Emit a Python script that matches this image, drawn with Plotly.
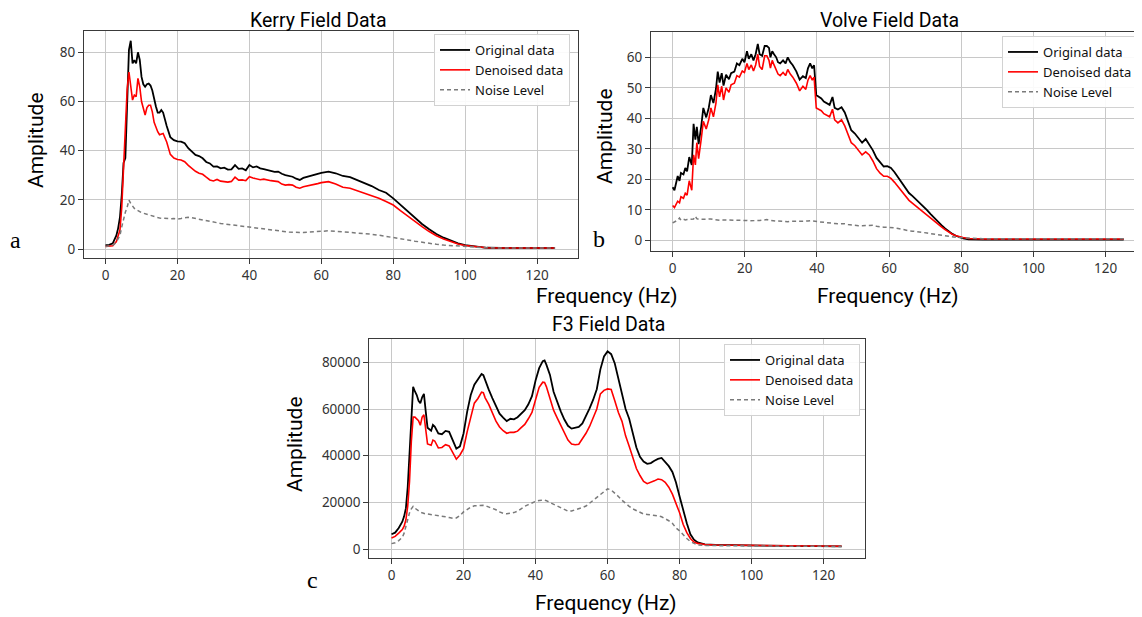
import plotly.graph_objects as go

# ---------------- Panel a : Kerry Field Data ----------------
a_freq = [0, 1, 2, 3, 3.5, 4, 4.5, 5, 5.5, 6,
          6.5, 7, 7.5, 8, 8.5, 9, 9.5, 10, 10.5, 11,
          11.5, 12, 12.5, 13, 13.5, 14, 14.5, 15, 15.5, 16,
          17, 18, 19, 20, 21, 22, 23, 24, 25, 26,
          27, 28, 29, 30, 31, 32, 33, 34, 35, 36,
          37, 38, 39, 40, 41, 42, 43, 44, 45, 46,
          47, 48, 49, 50, 51, 52, 53, 54, 55, 56,
          57, 58, 59, 60, 62, 64, 66, 68, 70, 72,
          74, 76, 78, 80, 82, 84, 86, 88, 90, 92,
          94, 96, 98, 100, 103, 106, 110, 115, 120, 125]
a_orig = [1.6, 1.7, 2.3, 5.5, 8.5, 13.0, 22.0, 35.0, 37.0, 62.0,
          81.0, 84.7, 75.5, 76.8, 75.5, 80.0, 77.0, 70.0, 67.0, 66.0,
          67.0, 67.3, 66.5, 64.5, 60.5, 58.0, 55.5, 55.5, 56.5, 55.5,
          50.0, 45.5, 44.3, 43.8, 43.7, 43.0, 41.0, 39.5, 38.3, 37.8,
          36.9, 35.4, 34.8, 33.5, 33.6, 32.8, 33.1, 32.3, 32.4, 34.1,
          32.6, 32.8, 32.0, 34.2, 33.2, 33.6, 32.8, 32.5, 32.1, 31.8,
          31.4, 31.5, 30.6, 30.1, 29.8, 29.4, 28.6, 28.1, 28.9, 29.4,
          29.6, 30.1, 30.6, 31.0, 31.5, 30.8, 29.7, 29.2, 28.1, 27.0,
          25.6, 24.0, 22.9, 20.6, 17.9, 15.2, 12.5, 10.2, 8.0, 6.1,
          4.6, 3.4, 2.3, 1.6, 0.95, 0.5, 0.4, 0.4, 0.4, 0.4]
a_den = [1.0, 1.1, 1.3, 3.0, 5.0, 7.7, 17.0, 32.0, 50.0, 65.0,
         72.0, 67.0, 60.6, 62.6, 62.0, 69.4, 66.0, 60.0, 57.0, 54.5,
         57.5, 58.5, 58.5, 55.8, 51.5, 49.5, 47.7, 46.5, 46.6, 47.0,
         43.5, 38.5, 37.0, 36.4, 36.2, 35.5, 34.0, 32.7, 31.6, 30.8,
         30.4, 29.2, 28.1, 27.7, 28.3, 27.6, 27.4, 27.2, 27.5, 29.2,
         28.0, 28.1, 27.8, 29.4, 28.9, 28.6, 28.2, 28.4, 28.0, 27.8,
         27.6, 27.4, 26.4, 26.0, 26.2, 26.0, 25.1, 24.7, 25.3, 25.6,
         25.7, 26.0, 26.6, 27.0, 27.4, 26.4, 25.1, 24.7, 23.7, 22.6,
         21.6, 20.6, 19.3, 17.9, 15.6, 13.4, 11.1, 9.1, 7.1, 5.4,
         4.1, 3.0, 2.0, 1.4, 0.8, 0.5, 0.4, 0.4, 0.4, 0.4]
a_noise = [1.0, 1.1, 1.5, 2.8, 4.0, 5.5, 9.0, 12.5, 15.0, 17.0,
           19.9, 18.5, 17.2, 16.5, 16.0, 15.4, 15.2, 14.8, 14.5, 14.2,
           14.0, 13.9, 13.7, 13.4, 13.2, 13.0, 12.8, 12.6, 12.5, 12.4,
           12.2, 12.3, 12.4, 12.2, 12.4, 12.6, 12.9, 12.7, 12.4, 12.1,
           11.8, 11.4, 11.0, 10.7, 10.5, 10.4, 10.2, 10.0, 9.9, 9.8,
           9.5, 9.3, 9.2, 9.1, 8.9, 8.7, 8.5, 8.2, 8.0, 7.8,
           7.6, 7.4, 7.2, 7.1, 6.9, 6.8, 6.7, 6.6, 6.7, 6.8,
           6.9, 7.0, 7.1, 7.2, 7.4, 7.2, 7.0, 6.9, 6.7, 6.4,
           6.0, 5.6, 5.2, 4.7, 4.2, 3.7, 3.2, 2.7, 2.3, 1.9,
           1.6, 1.4, 1.2, 1.0, 0.7, 0.5, 0.4, 0.4, 0.4, 0.4]

# ---------------- Panel b : Volve Field Data ----------------
b_freq = [0, 0.5, 1.4, 1.9, 2.3, 3, 3.5, 4, 4.6, 5.3,
          5.8, 6.3, 6.7, 7.2, 7.9, 8.5, 9.3, 10, 10.6, 11.3,
          12, 12.5, 13, 13.6, 14.1, 14.8, 15.6, 16.2, 17.1, 17.8,
          18.5, 19.3, 19.9, 20.6, 21.1, 21.8, 22.4, 23, 23.6, 24.1,
          24.8, 25.5, 26.1, 26.7, 27.1, 27.6, 28.1, 28.7, 29.2, 29.8,
          30.6, 31.3, 31.9, 32.6, 33.3, 34.3, 35.2, 36.1, 36.9, 37.5,
          38.1, 38.7, 39.2, 39.8, 40.6, 41.2, 41.9, 42.6, 43.5, 44.3,
          44.9, 45.8, 46.8, 47.7, 48.6, 49.5, 50.5, 51.5, 52.5, 53.5,
          54.5, 55.5, 56.5, 57.5, 58.5, 59.5, 60.5, 61.5, 62.5, 63.5,
          64.5, 65.5, 66.5, 67.5, 68.5, 69.5, 70.5, 71.5, 72.5, 73.5,
          74.5, 75.5, 76.5, 77.5, 78.5, 79.5, 80.5, 82, 84, 86,
          90, 100, 110, 120, 125]
b_orig = [17.4, 16.4, 21.1, 19.5, 22.1, 21.6, 23.7, 22.6, 27.3, 24.7,
          38.2, 33.0, 37.2, 31.5, 37.2, 43.4, 40.3, 43.4, 47.6, 45.0,
          49.6, 55.3, 51.7, 54.8, 50.7, 54.3, 52.8, 54.8, 55.3, 58.0,
          57.4, 59.5, 58.4, 62.0, 59.5, 61.0, 59.0, 61.0, 64.4, 61.0,
          60.5, 63.7, 63.7, 63.1, 60.0, 62.0, 61.0, 60.0, 58.4, 58.0,
          59.0, 58.0, 60.0, 58.4, 57.4, 55.3, 52.7, 53.8, 53.2, 56.4,
          58.0, 56.4, 57.4, 47.6, 47.0, 46.5, 45.5, 45.0, 44.4, 47.0,
          43.4, 42.9, 43.6, 41.9, 38.7, 36.1, 35.0, 33.5, 32.0, 33.2,
          31.5, 29.5, 27.0, 25.5, 24.2, 24.3, 23.7, 22.3, 20.6, 18.6,
          16.8, 15.5, 14.5, 13.4, 12.2, 11.0, 9.9, 8.6, 7.3, 6.1,
          5.0, 3.9, 2.9, 2.1, 1.5, 1.0, 0.6, 0.35, 0.25, 0.2,
          0.2, 0.2, 0.2, 0.2, 0.2]
b_den = [11.4, 10.7, 12.8, 12.3, 14.3, 13.8, 15.4, 14.8, 19.5, 16.4,
         28.0, 24.7, 32.0, 26.8, 33.0, 39.0, 36.5, 39.5, 43.4, 40.5,
         45.0, 51.0, 47.0, 50.5, 46.0, 50.0, 48.5, 51.0, 51.5, 54.0,
         53.5, 55.5, 55.0, 58.0, 56.0, 57.5, 55.5, 57.5, 61.0, 57.0,
         56.0, 60.5, 60.5, 59.0, 56.5, 59.0, 57.5, 56.0, 54.5, 54.0,
         55.0, 54.0, 56.0, 54.5, 53.5, 51.5, 49.0, 50.5, 49.5, 52.5,
         54.0, 52.5, 53.5, 43.4, 43.0, 42.5, 41.5, 41.0, 40.5, 43.0,
         39.5, 38.5, 39.5, 37.5, 34.5, 32.0, 31.0, 29.5, 28.0, 29.0,
         28.0, 26.0, 23.5, 22.0, 21.0, 21.0, 20.3, 19.0, 17.5, 15.8,
         14.3, 13.1, 12.1, 11.1, 10.1, 9.1, 8.2, 7.2, 6.2, 5.3,
         4.4, 3.5, 2.7, 2.0, 1.5, 1.1, 0.9, 0.6, 0.5, 0.45,
         0.45, 0.45, 0.45, 0.45, 0.45]
b_noise = [5.7, 6.0, 6.6, 7.3, 6.6, 6.9, 6.7, 6.8, 6.9, 6.8,
           7.0, 7.9, 7.1, 6.9, 7.0, 6.9, 6.9, 7.0, 7.0, 6.8,
           6.7, 6.6, 6.6, 6.7, 6.7, 6.6, 6.6, 6.7, 6.6, 6.5,
           6.6, 6.6, 6.5, 6.5, 6.4, 6.4, 6.3, 6.4, 6.4, 6.5,
           6.6, 6.7, 6.8, 6.6, 6.5, 6.4, 6.4, 6.3, 6.3, 6.2,
           6.1, 6.1, 6.1, 6.2, 6.2, 6.1, 6.1, 6.2, 6.2, 6.3,
           6.4, 6.3, 6.3, 6.2, 6.0, 5.9, 5.8, 5.7, 5.6, 5.5,
           5.5, 5.4, 5.5, 5.4, 5.2, 5.0, 4.9, 4.8, 4.8, 4.9,
           5.0, 4.9, 4.6, 4.4, 4.3, 4.3, 4.3, 4.1, 3.9, 3.6,
           3.3, 3.1, 3.0, 2.9, 2.8, 2.6, 2.4, 2.2, 2.0, 1.8,
           1.6, 1.4, 1.25, 1.1, 1.0, 0.9, 0.8, 0.65, 0.55, 0.5,
           0.5, 0.5, 0.5, 0.5, 0.5]

# ---------------- Panel c : F3 Field Data ----------------
c_freq = [0, 1, 2, 3, 3.5, 4, 4.5, 5, 5.5, 6,
          6.5, 7, 7.5, 8, 8.5, 9, 9.5, 10, 11, 11.5,
          12, 13, 14, 15, 16, 17, 18, 19, 20, 21,
          22, 23, 24, 25, 25.5, 26, 27, 28, 29, 30,
          31, 32, 33, 34, 35, 36, 37, 38, 39, 40,
          41, 42, 42.5, 43, 44, 45, 46, 47, 48, 49,
          50, 51, 52, 53, 54, 55, 56, 57, 58, 59,
          60, 61, 62, 63, 64, 65, 66, 67, 68, 69,
          70, 71, 72, 73, 74, 75, 76, 77, 78, 79,
          80, 81, 82, 83, 84, 85, 87, 90, 100, 110,
          125]
c_orig = [6300, 7000, 9000, 11700, 14000, 17500, 26500, 41000, 56000, 69500,
          67500, 66000, 63500, 62500, 65000, 66500, 59000, 52000, 50700, 53200,
          52500, 49500, 49200, 50600, 50200, 46500, 43000, 44000, 49500, 58800,
          66000, 70400, 72600, 75000, 74500, 72300, 68300, 64700, 61200, 58000,
          56300, 54800, 55800, 55600, 56500, 58000, 59500, 62000, 65500, 72200,
          77500, 80500, 80800, 79000, 74600, 67400, 62800, 59000, 55500, 52800,
          51600, 51800, 52300, 53800, 56800, 60300, 64000, 68500, 77000, 82500,
          84700, 83500, 79500, 73000, 67000, 60000, 55800, 49000, 43500, 39500,
          37500, 36500, 36800, 37800, 38600, 39000, 37200, 35500, 33000, 28500,
          22500, 16500, 11000, 6300, 4000, 2800, 2000, 1800, 1500, 1300,
          1100]
c_den = [4700, 5400, 6800, 8300, 9800, 12500, 18400, 29000, 46000, 56500,
         56500, 55500, 55000, 53000, 56500, 57500, 50000, 45000, 44500, 46700,
         46300, 43300, 43500, 44700, 44200, 41000, 38500, 40300, 43000, 50200,
         57000, 62500, 64500, 67200, 67000, 64800, 62000, 58500, 54800, 52300,
         50700, 49600, 50000, 50000, 50500, 52000, 53400, 55800, 58500, 64000,
         69300, 71500, 71400, 69600, 64500, 59500, 56200, 53000, 50000, 46700,
         45000, 44700, 44900, 47000, 49600, 52500, 56000, 60000, 66500, 68000,
         68600, 68400, 63500, 58500, 54700, 48500, 44000, 38800, 34500, 31500,
         29000, 28000, 28500, 29200, 30000, 29700, 28600, 26500, 23500, 19500,
         15500, 10500, 7000, 4500, 3000, 2400, 1900, 1700, 1500, 1300,
         1200]
c_noise = [2300, 2700, 3600, 5000, 6800, 9500, 13000, 15500, 17200, 18300,
           17500, 16800, 16300, 15800, 15500, 15200, 15000, 15000, 14800, 14700,
           14700, 14500, 14200, 13800, 13500, 13200, 13300, 14300, 15900, 16900,
           17900, 18500, 18700, 18700, 18700, 18600, 18100, 17600, 16800, 15900,
           15300, 15100, 15300, 15600, 16200, 17400, 18300, 19000, 19800, 20400,
           20800, 21000, 21000, 20700, 19900, 19400, 18500, 17500, 16800, 16200,
           16300, 16700, 17200, 17800, 18400, 19600, 20800, 22400, 23400, 24800,
           25800, 25300, 24000, 22500, 20900, 19500, 18300, 17200, 16400, 15600,
           15000, 14800, 14700, 14600, 14200, 13800, 13000, 12100, 11000, 9000,
           7800, 6000, 4500, 3200, 2300, 1700, 1500, 1400, 1300, 1200,
           1100]

series_names = ["Original data", "Denoised data", "Noise Level"]
panel_titles = ["Kerry Field Data", "Volve Field Data", "F3 Field Data"]
panel_letters = ["a", "b", "c"]
x_ticks = [0, 20, 40, 60, 80, 100, 120]
a_yticks = [0, 20, 40, 60, 80]
b_yticks = [0, 10, 20, 30, 40, 50, 60]
c_yticks = [0, 20000, 40000, 60000, 80000]

# The page body has an 8px margin, so the figure starts at (8, 8) of the window.
OFF = 8
W, H = 1142 - OFF, 617 - OFF
def px(x):
    return (x - OFF) / W
def py(y):
    return 1 - (y - OFF) / H

fig = go.Figure()

panels = [
    dict(f=a_freq, o=a_orig, d=a_den, n=a_noise, xa="x", ya="y", leg="legend"),
    dict(f=b_freq, o=b_orig, d=b_den, n=b_noise, xa="x2", ya="y2", leg="legend2"),
    dict(f=c_freq, o=c_orig, d=c_den, n=c_noise, xa="x3", ya="y3", leg="legend3"),
]
for p in panels:
    fig.add_trace(go.Scatter(x=p["f"], y=p["o"], mode="lines", name=series_names[0],
                             line=dict(color="black", width=1.8),
                             xaxis=p["xa"], yaxis=p["ya"], legend=p["leg"]))
    fig.add_trace(go.Scatter(x=p["f"], y=p["d"], mode="lines", name=series_names[1],
                             line=dict(color="#ff0000", width=1.6),
                             xaxis=p["xa"], yaxis=p["ya"], legend=p["leg"]))
    fig.add_trace(go.Scatter(x=p["f"], y=p["n"], mode="lines", name=series_names[2],
                             line=dict(color="#7a7a7a", width=1.5, dash="4px,3px"),
                             xaxis=p["xa"], yaxis=p["ya"], legend=p["leg"]))

tick_font = dict(family="Noto Sans", size=13.5, color="#333333")
axis_common = dict(showline=True, linecolor="#3a3a3a", linewidth=1.2, mirror=True,
                   ticks="outside", ticklen=5, tickwidth=1, tickcolor="#3a3a3a",
                   showgrid=True, gridcolor="#c8c8c8", gridwidth=1, zeroline=False,
                   tickfont=tick_font)

legend_common = dict(xanchor="right", yanchor="top", bgcolor="rgba(255,255,255,0.9)",
                     bordercolor="#d2d2d2", borderwidth=1, tracegroupgap=0,
                     font=dict(family="Noto Sans", size=13, color="#111111"))

fig.update_layout(
    width=W, height=H, margin=dict(l=0, r=0, t=0, b=0),
    paper_bgcolor="white", plot_bgcolor="white", showlegend=True,
    xaxis=dict(domain=[px(84), px(577.7)], range=[-6.0, 131.3], tickvals=x_ticks, anchor="y", **axis_common),
    yaxis=dict(domain=[py(258), py(30.7)], range=[-3.66, 88.8], tickvals=a_yticks, anchor="x", **axis_common),
    xaxis2=dict(domain=[px(651), min(1.0, px(1141))], range=[-6.0, 129.8], tickvals=x_ticks, anchor="y2", **axis_common),
    yaxis2=dict(domain=[py(250.7), py(32.3)], range=[-3.41, 68.2], tickvals=b_yticks, anchor="x2", **axis_common),
    xaxis3=dict(domain=[px(369.3), px(864.7)], range=[-6.17, 131.4], tickvals=x_ticks, anchor="y3", **axis_common),
    yaxis3=dict(domain=[py(557.7), py(339)], range=[-3730, 90000], tickvals=c_yticks, tickformat="d", anchor="x3", **axis_common),
    legend=dict(x=px(570), y=py(34), **legend_common),
    legend2=dict(x=px(1138), y=py(36), **legend_common),
    legend3=dict(x=px(860), y=py(344), **legend_common),
)

title_font = dict(family="Roboto", size=19.5, color="black")
label_font = dict(family="Roboto", size=21, color="black")
letter_font = dict(family="Liberation Serif", size=24, color="black")

ann = []
# top titles: anchored by their top edge right at the figure's top
for t, (x, y) in zip(panel_titles[:2], [(318, 8), (889, 8)]):
    ann.append(dict(text=t, x=px(x), y=py(y), font=title_font, yanchor="top", borderpad=0))
ann.append(dict(text=panel_titles[2], x=px(608), y=py(324), font=title_font, yanchor="middle"))
for (x, y) in [(36, 140), (605, 136), (295, 444)]:
    ann.append(dict(text="Amplitude", x=px(x), y=py(y), textangle=-90, font=label_font, yanchor="middle"))
for (x, y) in [(607, 296), (888, 296), (606, 603)]:
    ann.append(dict(text="Frequency (Hz)", x=px(x), y=py(y), font=label_font, yanchor="middle"))
for t, (x, y) in zip(panel_letters, [(15, 240), (599, 239), (312, 580)]):
    ann.append(dict(text=t, x=px(x), y=py(y), font=letter_font, yanchor="middle"))
for a_ in ann:
    a_.update(xref="paper", yref="paper", showarrow=False, xanchor="center")
fig.update_layout(annotations=ann)

fig.write_html("out.html")
